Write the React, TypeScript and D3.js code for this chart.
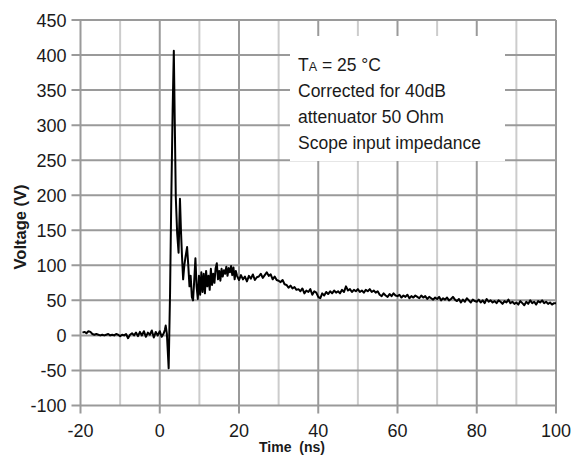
import React from "react";
import * as d3 from "d3";

// ---- Data ----
const xTicks = [-20, 0, 20, 40, 60, 80, 100];
const xMinorTicks = [-10, 10, 30, 50, 70, 90];
const yTicks = [-100, -50, 0, 50, 100, 150, 200, 250, 300, 350, 400, 450];

// Pre-trigger baseline: t = -19.5 .. 1.0 ns, 0.5 ns step
const preStart = -19.5;
const preStep = 0.5;
const preV = [4, 5, 3, 6, 5, 2, 1, 2, 1, 0, 1, 0, 1, 2, 0, 1, 0, 2, 1, -1, 1, 0, 2, -4, 1, 3, 0, 4, -1, 5, 0, 6, -2, 4, 1, 7, -3, 5, 0, 6, -2, 3];

// Trigger / spike region (irregular sampling)
const spikeT = [1.3, 1.5, 1.8, 2.25, 2.6, 2.9, 3.25, 3.55, 3.8, 4.05, 4.4, 4.75, 5.1, 5.35, 5.6, 5.9, 6.2, 6.5, 6.9, 7.2, 7.5, 7.8, 8.1, 8.4, 8.7, 9.0, 9.3, 9.6, 9.9, 10.2, 10.5, 10.8, 11.1, 11.4, 11.7, 12.0, 12.3, 12.6, 12.9, 13.2, 13.5, 13.8, 14.1, 14.4, 14.7, 15.0, 15.3, 15.6, 15.9, 16.2, 16.5, 16.8, 17.1, 17.4, 17.7, 18.0, 18.3, 18.6, 18.9, 19.2, 19.5];
const spikeV = [8, 14, 2, -47, 60, 190, 320, 406, 300, 197, 145, 118, 195, 150, 115, 80, 100, 112, 126, 100, 70, 85, 55, 50, 78, 110, 70, 52, 85, 58, 90, 62, 88, 60, 92, 70, 85, 65, 95, 72, 88, 75, 96, 103, 80, 92, 78, 95, 84, 93, 88, 98, 85, 96, 90, 99, 86, 97, 80, 92, 85];

// Tail: t = 20 .. 100 ns, 0.5 ns step
const tailStart = 20;
const tailStep = 0.5;
const tailV = [
  79, 86, 80, 84, 77, 85, 81, 87, 79, 83,
  84, 88, 82, 86, 90, 85, 87, 80, 84, 79,
  78, 76, 79, 73, 72, 68, 71, 67, 69, 65,
  66, 63, 67, 60, 64, 62, 66, 58, 63, 61,
  55, 53, 60, 57, 62, 59, 63, 60, 64, 61,
  63, 60, 65, 62, 70, 64, 66, 62, 65, 63,
  66, 62, 64, 61, 65, 63, 66, 62, 64, 61,
  63, 58, 56, 60, 57, 55, 59, 56, 60, 57,
  56, 58, 54, 57, 55, 58, 53, 56, 54, 57,
  55, 53, 57, 54, 56, 52, 55, 53, 51, 54,
  52, 55, 50, 53, 51, 54, 50, 52, 55, 51,
  49, 52, 47, 51, 48, 53, 50, 47, 51, 49,
  48, 51, 47, 50, 46, 52, 48, 50, 47, 49,
  46, 50, 48, 45, 49, 47, 51, 46, 48, 45,
  47, 44, 49, 46, 43, 48, 45, 50, 46, 48,
  44, 49, 47, 50, 46, 48, 45, 47, 44, 46,
  46,
];

const noteLines = ["Corrected for 40dB", "attenuator 50 Ohm", "Scope input impedance"];

type Pt = { t: number; v: number };
const series: Pt[] = [
  ...preV.map((v, i) => ({ t: preStart + i * preStep, v })),
  ...spikeT.map((t, i) => ({ t, v: spikeV[i] })),
  ...tailV.map((v, i) => ({ t: tailStart + i * tailStep, v })),
];

export default function App() {
  const W = 585, H = 456;
  const left = 80.5, right = 556, top = 20, bottom = 405.5;
  const x = d3.scaleLinear().domain([-20, 100]).range([left, right]);
  const y = d3.scaleLinear().domain([-100, 450]).range([bottom, top]);
  const line = d3.line<Pt>().x((d) => x(d.t)).y((d) => y(d.v));
  const major = "#9a9a9a";
  const minor = "#cccccc";
  const font = "'Liberation Sans', Arial, sans-serif";
  const txt = "#1a1a1a";

  return (
    <svg width={W} height={H} style={{ position: "absolute", left: 0, top: 0, background: "#fff" }} fontFamily={font}>
      <rect x={0} y={0} width={W} height={H} fill="#fff" />
      {/* minor vertical grid */}
      {xMinorTicks.map((t) => (
        <line key={"mn" + t} x1={x(t)} x2={x(t)} y1={top} y2={bottom} stroke={minor} strokeWidth={2} />
      ))}
      {/* horizontal grid */}
      {yTicks.map((v) => (
        <line key={"h" + v} x1={left - 9} x2={right} y1={y(v)} y2={y(v)} stroke={major} strokeWidth={2} />
      ))}
      {/* major vertical grid */}
      {xTicks.map((t) => (
        <line key={"mj" + t} x1={x(t)} x2={x(t)} y1={top} y2={bottom + 8} stroke={major} strokeWidth={2} />
      ))}
      {/* annotation box */}
      <rect x={290} y={36} width={215} height={125} fill="#fff" />
      <text x={298} y={70.7} fontSize={17.5} fill={txt}>
        T<tspan fontSize={12.5}>A</tspan> = 25 °C
      </text>
      {noteLines.map((s, i) => (
        <text key={s} x={298} y={96.7 + i * 26.2} fontSize={17.5} fill={txt}>
          {s}
        </text>
      ))}
      {/* data */}
      <path d={line(series) || ""} fill="none" stroke="#000" strokeWidth={2} strokeLinejoin="round" />
      {/* tick labels */}
      {yTicks.map((v) => (
        <text key={"yl" + v} x={66.5} y={y(v) + 6.5} fontSize={18} textAnchor="end" fill={txt}>
          {v}
        </text>
      ))}
      {xTicks.map((t) => (
        <text key={"xl" + t} x={x(t)} y={437} fontSize={18} textAnchor="middle" fill={txt}>
          {t}
        </text>
      ))}
      <text x={292} y={452} fontSize={14} fontWeight="bold" textAnchor="middle" fill={txt} style={{ whiteSpace: "pre" }}>
        {"Time  (ns)"}
      </text>
      <text transform="translate(26,227) rotate(-90)" fontSize={16.5} fontWeight="bold" textAnchor="middle" fill={txt}>
        Voltage (V)
      </text>
    </svg>
  );
}
